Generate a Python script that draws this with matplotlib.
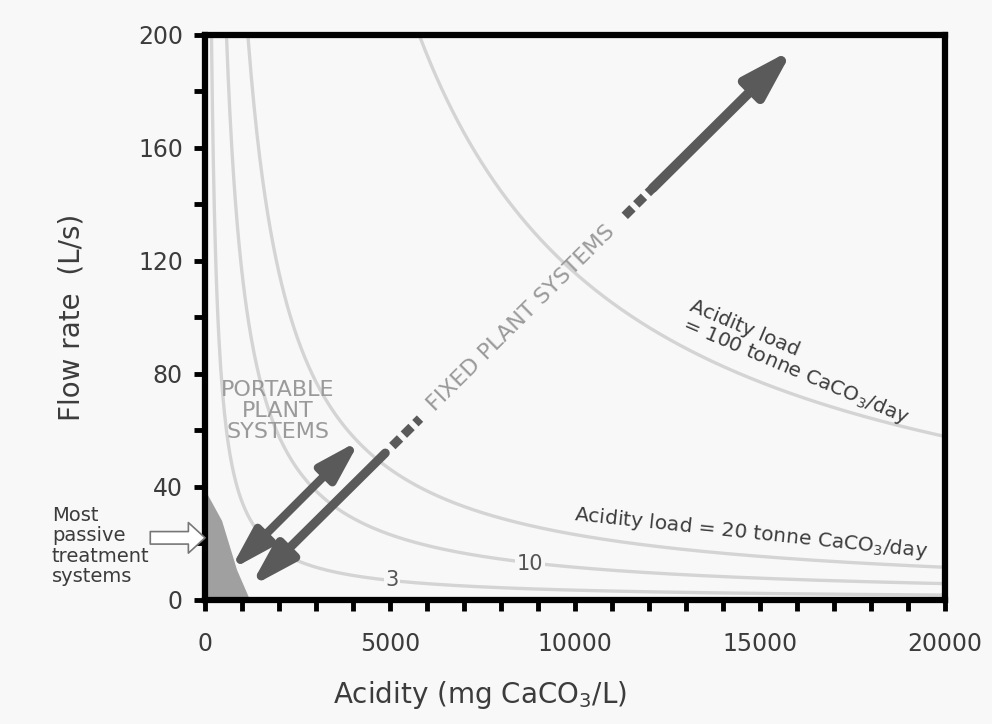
import numpy as np
import matplotlib.pyplot as plt
from matplotlib.patches import FancyArrowPatch, Polygon

# acidity load lines (tonne CaCO3/day)
loads = [3, 10, 20, 100]
# flow (L/s) * acidity (mg/L) * 86400 s/day / 1e9 mg/tonne = tonne/day
acidity_grid = np.linspace(50, 20000, 800)

# passive treatment wedge near the origin (acidity, flow)
passive_x = [0, 0, 460, 865, 1216]
passive_y = [0, 39, 28, 10.6, 0]

# portable plant arrow ends
portable_x = [676, 4190]
portable_y = [10.6, 56.6]

# fixed plant arrow ends and breaks (fraction along the arrow)
fixed_x = [1216, 15892]
fixed_y = [4.6, 195]
fixed_solid_lo = 0.249
fixed_dash_lo = [0.262, 0.313]
fixed_dash_hi = [0.69, 0.742]
fixed_label_t = 0.50

xticks = [0, 5000, 10000, 15000, 20000]
yticks = [0, 40, 80, 120, 160, 200]

bg = '#f8f8f8'
curve_col = '#d4d4d4'
arrow_col = '#5a5a5a'
text_col = '#3c3c3c'
label_grey = '#9a9a9a'

fig = plt.figure(figsize=(9.92, 7.24), dpi=100, facecolor=bg)
ax = fig.add_axes([0.2067, 0.1713, 0.746, 0.7804], facecolor=bg)
ax.set_xlim(0, 20000)
ax.set_ylim(0, 200)

for load in loads:
    flow = load * 1e9 / 86400 / acidity_grid
    ax.plot(acidity_grid, flow, color=curve_col, lw=2.4, zorder=1)

ax.add_patch(Polygon(np.column_stack([passive_x, passive_y]), closed=True,
                     facecolor='#8a8a8a', edgecolor='none', alpha=0.8, zorder=2))

# portable arrow
ax.add_patch(FancyArrowPatch((portable_x[0], portable_y[0]), (portable_x[1], portable_y[1]),
                             arrowstyle='<|-|>,head_length=1.25,head_width=0.37',
                             mutation_scale=20, lw=6, color=arrow_col,
                             shrinkA=0, shrinkB=0, zorder=4))

# fixed arrow, broken by dashes and its label
def along(t):
    return (fixed_x[0] + t * (fixed_x[1] - fixed_x[0]),
            fixed_y[0] + t * (fixed_y[1] - fixed_y[0]))

ax.add_patch(FancyArrowPatch(along(0), along(fixed_solid_lo),
                             arrowstyle='<|-,head_length=1.35,head_width=0.4',
                             mutation_scale=20, lw=6.5, color=arrow_col,
                             shrinkA=0, shrinkB=0, zorder=4))
ax.add_patch(FancyArrowPatch(along(fixed_dash_hi[1]), along(1),
                             arrowstyle='-|>,head_length=1.5,head_width=0.45',
                             mutation_scale=20, lw=7, color=arrow_col,
                             shrinkA=0, shrinkB=0, zorder=4))
for seg in (fixed_dash_lo, fixed_dash_hi):
    p0, p1 = along(seg[0]), along(seg[1])
    ax.plot([p0[0], p1[0]], [p0[1], p1[1]], color=arrow_col, lw=6.5,
            linestyle=(0, (1.2, 0.6)), solid_capstyle='butt', dash_capstyle='butt', zorder=4)

slope = (fixed_y[1] - fixed_y[0]) / (fixed_x[1] - fixed_x[0])
lx, ly = along(fixed_label_t)
ax.text(lx, ly, 'FIXED PLANT SYSTEMS', rotation=np.degrees(np.arctan(slope)),
        transform_rotates_text=True, rotation_mode='anchor',
        ha='center', va='center', fontsize=16, color=label_grey, zorder=5)

ax.text(1973, 67, 'PORTABLE\nPLANT\nSYSTEMS', ha='center', va='center',
        fontsize=16, color=label_grey, linespacing=1.05, zorder=5)

# curve labels
ax.text(5054, 7.2, '3', ha='center', va='center', fontsize=15, color='#555555',
        bbox=dict(facecolor=bg, edgecolor='none', pad=1), zorder=3)
ax.text(8784, 12.6, '10', ha='center', va='center', fontsize=15, color='#555555',
        bbox=dict(facecolor=bg, edgecolor='none', pad=1), zorder=3)
ax.text(14750, 23.5, 'Acidity load = 20 tonne CaCO$_3$/day', rotation=-6,
        ha='center', va='center', fontsize=14.5, color=text_col, zorder=5)
ax.text(16050, 84, 'Acidity load\n= 100 tonne CaCO$_3$/day', rotation=-23,
        ha='center', va='center', fontsize=14.5, color=text_col, linespacing=0.95,
        multialignment='left', zorder=5)

# passive systems note outside the axes
fig.text(52 / 992, 1 - 546 / 724, 'Most\npassive\ntreatment\nsystems', ha='left', va='center',
         fontsize=14, color=text_col, linespacing=1.1)
ax.annotate('', xy=(0, 22), xytext=(-0.074, 22), xycoords=('data', 'data'),
            textcoords=('axes fraction', 'data'), annotation_clip=False,
            arrowprops=dict(arrowstyle='simple,head_length=0.6,head_width=1.1,tail_width=0.45',
                            mutation_scale=20, facecolor='white', edgecolor='#777777', lw=1.2,
                            shrinkA=0, shrinkB=0), zorder=6)

ax.set_xticks(xticks)
ax.set_yticks(yticks)
ax.set_xticks(np.arange(0, 20001, 1000), minor=True)
ax.set_yticks(np.arange(0, 201, 20), minor=True)
ax.tick_params(which='both', direction='out', length=8, width=3.5, color='black')
ax.tick_params(axis='x', which='major', labelsize=17, labelcolor=text_col, pad=15)
ax.tick_params(axis='y', which='major', labelsize=17, labelcolor=text_col, pad=8)
for s in ax.spines.values():
    s.set_linewidth(4.5)

ax.set_xlabel('Acidity (mg CaCO$_3$/L)', fontsize=20, color=text_col)
ax.set_ylabel('Flow rate  (L/s)', fontsize=20, color=text_col)
ax.xaxis.set_label_coords(0.372, -0.14)
ax.yaxis.set_label_coords(-0.162, 0.5)

fig.savefig('out.png', dpi=100, facecolor=bg)
